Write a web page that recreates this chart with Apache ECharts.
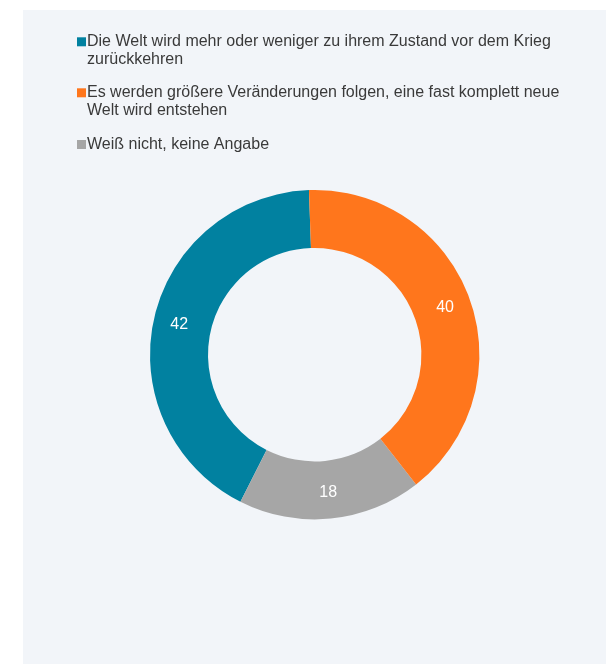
<!DOCTYPE html>
<html>
<head>
<meta charset="utf-8">
<script src="https://cdn.jsdelivr.net/npm/echarts@6/dist/echarts.min.js"></script>
<style>
html,body{margin:0;padding:0;background:#ffffff;}
#chart{width:606px;height:664px;}
</style>
</head>
<body>
<div id="chart"></div>
<script>
const categories = [
  'Die Welt wird mehr oder weniger zu ihrem Zustand vor dem Krieg zurückkehren',
  'Es werden größere Veränderungen folgen, eine fast komplett neue Welt wird entstehen',
  'Weiß nicht, keine Angabe'
];
const values = [42, 40, 18];
const colors = ['#0181A0', '#FF761C', '#A6A6A6'];
// order in which the slices run counter-clockwise from the top
const sliceOrder = [0, 2, 1];

const FONT = '"Liberation Sans", Arial, sans-serif';
const FONT_SIZE = 16;
const LH = 17.5;
const WRAP_WIDTH = 490;
const iconCenters = [41.8, 92.8, 144.5];

const measureCtx = document.createElement('canvas').getContext('2d');
measureCtx.font = FONT_SIZE + 'px ' + FONT;
function wrapWords(text) {
  const words = text.split(' ');
  const lines = [];
  let cur = '';
  words.forEach(w => {
    const test = cur ? cur + ' ' + w : w;
    if (cur && measureCtx.measureText(test).width > WRAP_WIDTH) {
      lines.push(cur);
      cur = w;
    } else {
      cur = test;
    }
  });
  if (cur) lines.push(cur);
  return lines;
}
const wrapped = categories.map(wrapWords);

const chart = echarts.init(document.getElementById('chart'), null, {renderer: 'canvas'});

const legends = categories.map((name, i) => {
  const n = wrapped[i].length;
  const padTop = (n - 1) * LH;
  const boxH = n * LH + padTop;
  return {
    orient: 'vertical',
    left: 77,
    top: iconCenters[i] - boxH / 2,
    padding: 0,
    itemWidth: 9,
    itemHeight: 9,
    icon: 'rect',
    selectedMode: false,
    data: [{name: name, itemStyle: {color: colors[i]}}],
    formatter: () => wrapped[i].join('\n'),
    textStyle: {
      fontFamily: FONT,
      fontSize: FONT_SIZE,
      color: '#3a3a3a',
      lineHeight: LH,
      padding: [padTop, 0, 0, -4],
      rich: {r: {}}
    }
  };
});

chart.setOption({
  backgroundColor: 'transparent',
  animation: false,
  graphic: [{
    type: 'rect',
    z: -10,
    silent: true,
    shape: {x: 23, y: 10, width: 583, height: 654},
    style: {fill: '#F2F5F9'}
  }],
  legend: legends,
  series: [{
    type: 'pie',
    center: [314.7, 354.7],
    radius: [106.7, 164.7],
    startAngle: 92,
    clockwise: false,
    avoidLabelOverlap: false,
    itemStyle: {borderWidth: 0},
    label: {
      show: true,
      position: 'inside',
      formatter: '{c}',
      color: '#ffffff',
      fontFamily: FONT,
      fontSize: 16
    },
    labelLine: {show: false},
    emphasis: {disabled: true},
    data: sliceOrder.map(i => ({name: categories[i], value: values[i], itemStyle: {color: colors[i]}}))
  }]
});
</script>
</body>
</html>
